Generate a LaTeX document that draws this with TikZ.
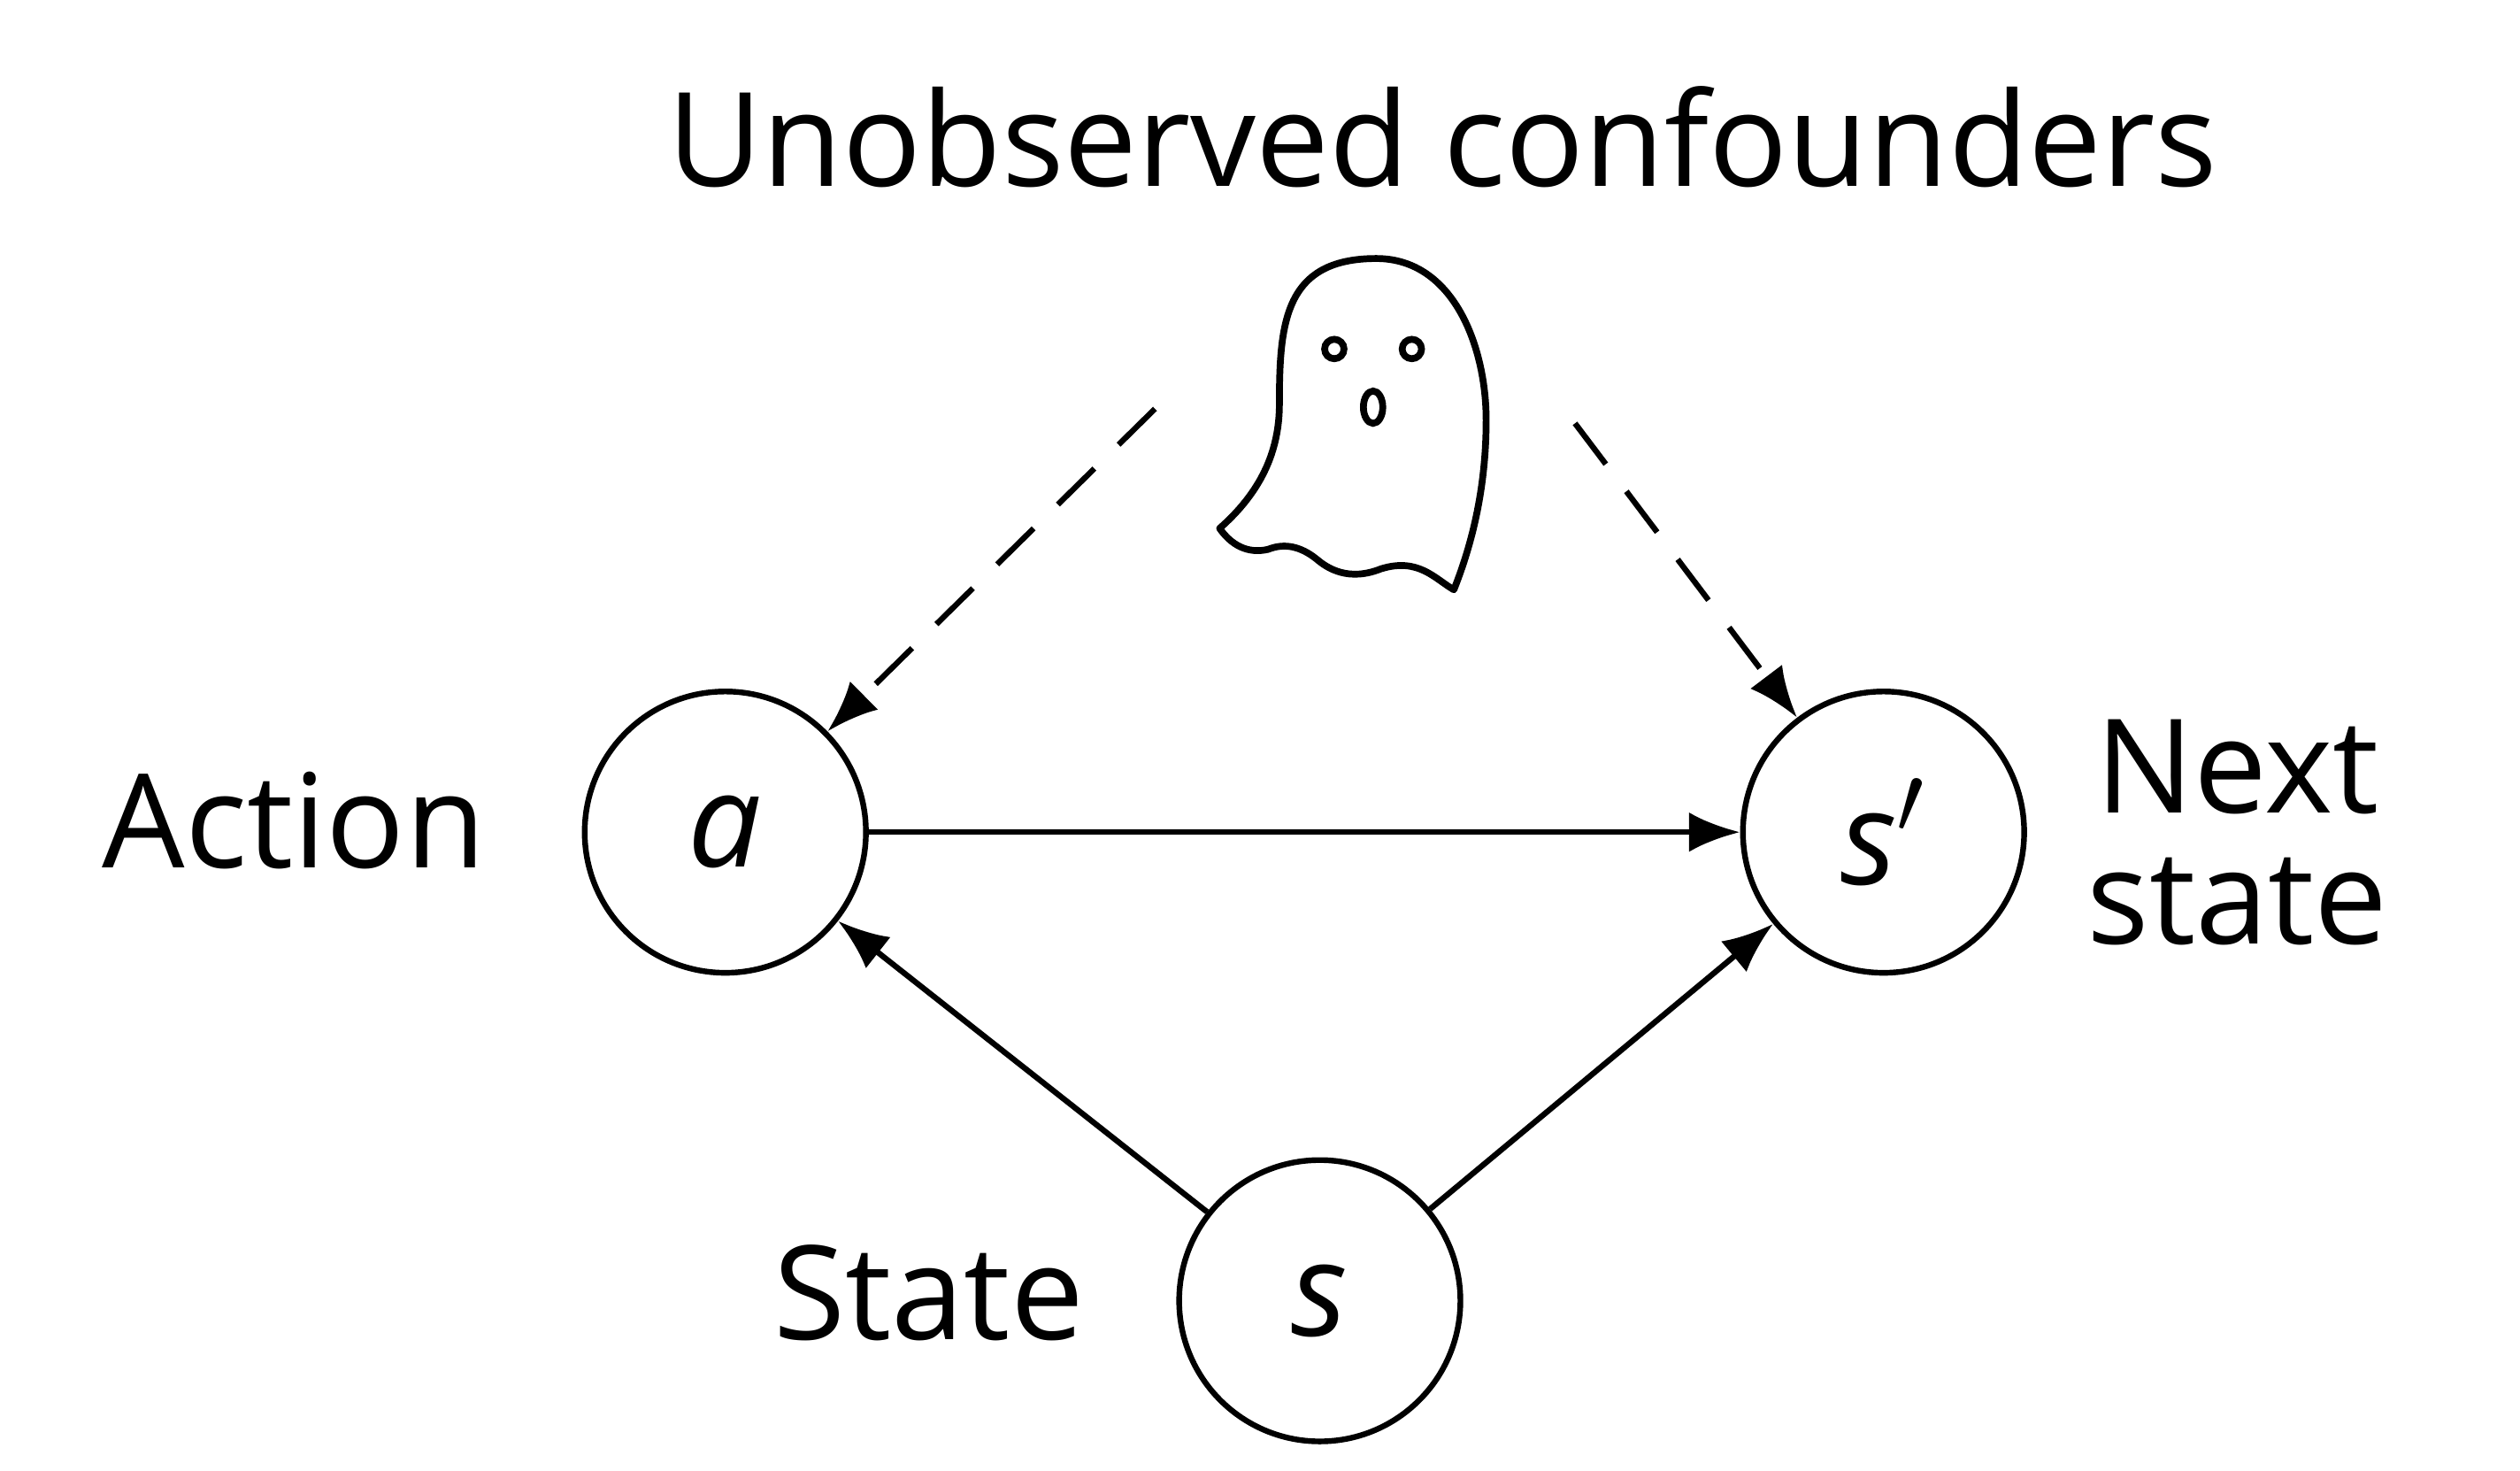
\documentclass[tikz,border=0pt]{standalone}
\usepackage{fontspec}
\setmainfont{Open Sans}
\usetikzlibrary{arrows.meta}
\tikzset{
  var/.style={draw,circle,line width=1pt,minimum size=1.74cm,inner sep=0pt},
  lbl/.style={inner sep=0pt,align=center},
  edge/.style={line width=1pt,-{Latex[length=9pt,width=7pt]}},
}
\begin{document}
\begin{tikzpicture}[x=0.01cm,y=-0.01cm,font=\fontsize{23}{27}\selectfont]
\useasboundingbox (0,0) rectangle (1560,910);
\node[lbl] (title) at (893,85) {Unobserved confounders};
% variables
\node[var] (a) at (449,515) {\textit{a}};
\node[var] (sn) at (1166,515) {\textit{s}$'$};
\node[var] (s) at (817,805) {\textit{s}};
\node[lbl] (la) at (182,508) {Action};
\node[lbl] (ls) at (575,800) {State};
\node[lbl] (lsn) at (1385,515) {Next\\[-4pt]state};
% ghost
\draw[line width=1.2pt,line join=round]
  (755,327) .. controls (780,305) and (792,280) .. (792,250)
  .. controls (792,200) and (795,160) .. (852,160)
  .. controls (900,160) and (920,215) .. (920,260)
  .. controls (920,300) and (912,335) .. (900,365)
  .. controls (888,358) and (878,345) .. (855,352)
  .. controls (835,360) and (822,352) .. (815,346)
  .. controls (805,338) and (795,336) .. (785,340)
  .. controls (772,343) and (762,337) .. (755,327) -- cycle;
\draw[line width=1.2pt] (826,216) circle (6) (874,216) circle (6)
  (850,252) ellipse (6 and 10);
\coordinate (g1) at (715,253);
\coordinate (g2) at (975,262);
% edges
\draw[edge,dashed,dash pattern=on 9pt off 6pt] (g1) -- (a);
\draw[edge,dashed,dash pattern=on 9pt off 6pt] (g2) -- (sn);
\draw[edge] (a) -- (sn);
\draw[edge] (s) -- (a);
\draw[edge] (s) -- (sn);
\end{tikzpicture}
\end{document}
